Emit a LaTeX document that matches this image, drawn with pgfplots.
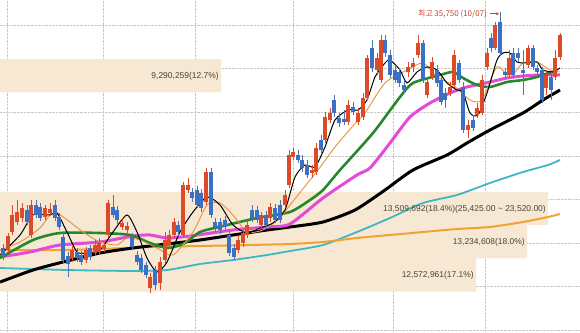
\documentclass[border=0pt]{standalone}
\usepackage{fontspec}
\setmainfont{Liberation Sans}
\newfontfamily\kr{Noto Sans CJK KR}
\usepackage{pgfplots}
\usepackage{pgfplotstable}
\usetikzlibrary{arrows.meta}
\pgfplotsset{compat=1.18}
\definecolor{band}{HTML}{F6E8D3}
\definecolor{cred}{HTML}{DC4A28}
\definecolor{cblue}{HTML}{3A70C6}
\definecolor{cgreen}{HTML}{23892A}
\definecolor{cmag}{HTML}{E24BD6}
\definecolor{ccyan}{HTML}{3FB6C6}
\definecolor{cgold}{HTML}{F0A232}
\definecolor{corange}{HTML}{E8913A}
\definecolor{ltext}{HTML}{4E4234}
\definecolor{ttext}{HTML}{C8402A}

% up candles: x, body low, body high, wick low, wick high
\pgfplotstableread{
x bl bh wl wh
8 22100 22900 21950 23050
12 23150 24100 22950 24700
17 23700 24300 23550 24950
22 23950 24500 23700 24800
31 22950 24700 22800 24950
45 24000 24500 23800 24700
50 24200 24450 24050 24800
72 21650 22100 21400 22350
86 21500 22100 21350 22250
95 21950 22400 21750 22650
99 22000 22500 21800 22800
104 22150 22400 22000 22550
108 22950 24800 22800 24950
122 23400 23650 23250 23950
127 23250 23500 23050 23700
150 19900 20550 19650 20800
160 20200 21400 19800 21700
165 21500 22650 21350 23150
169 22400 22950 22200 23250
174 22950 23700 22800 23950
183 22950 25850 22850 26000
188 25550 25850 25350 26250
206 24850 26550 24700 26800
238 22100 22650 21950 22950
243 22500 23050 22250 23350
247 22950 23550 22800 23800
261 23550 24100 23350 24300
270 23950 24550 23700 24800
285 24700 25250 24500 25550
289 25850 27550 25650 27850
293 27450 27700 27250 27950
312 26500 26700 26250 26950
316 26550 27950 26400 28250
325 28400 29750 28250 30000
330 29550 29950 29400 30250
348 29450 30400 29250 30700
358 29450 29950 29250 30250
363 29750 30800 29550 31100
367 30800 33100 30700 33300
377 32400 33100 32150 33400
381 31850 34150 31700 34450
408 32300 32600 32000 32900
413 32600 32800 32300 33100
418 33300 33950 33100 34450
427 31000 31750 30800 31950
432 32000 32900 31850 33150
450 31100 31450 30950 31750
454 31550 33300 31400 33550
468 29000 29250 28500 29550
477 29850 30250 29650 30550
482 29950 31850 29850 32150
487 32600 33400 32400 33700
495 33700 35000 33550 35150
509 32150 33100 31950 33550
528 32700 33700 32550 33850
546 31400 32150 31000 32400
555 32000 33100 31850 33550
560 33150 34450 33000 34550
}\uptab

% down candles
\pgfplotstableread{
x bl bh wl wh
3 21750 22200 21500 22450
27 23700 24400 23550 24700
36 24100 24700 23950 24950
40 23950 24550 23750 24800
55 23950 24700 23750 24950
59 23400 24000 23250 24200
63 21500 22850 21350 23050
68 21300 21750 20550 22000
77 21650 22000 21400 22200
81 21400 21800 21250 22050
90 21700 22200 21500 22400
113 24100 24550 23950 25250
117 23800 24400 23600 24600
132 22250 22850 22100 23050
137 21400 21800 21250 22050
141 20950 21650 20800 21850
146 20650 21250 20500 21400
155 20100 20950 19800 21200
178 23150 23550 22900 23750
192 25100 25450 24850 25650
197 24700 25550 24500 25750
201 24500 25350 24300 25600
211 24100 26550 23950 26800
215 23400 23700 23150 23950
220 23250 23700 23000 23950
225 23400 23800 23200 24050
229 21950 22950 21750 23200
234 21700 22200 21500 22450
252 23950 24400 23700 24700
257 23800 24400 23650 24600
266 23550 24100 23300 24350
275 23800 24500 23650 24750
280 23800 24700 23650 24950
298 27250 27550 27100 27850
302 26800 27250 26550 27550
307 26400 26950 26250 27250
321 27850 28400 27650 28700
334 29950 30700 29750 31000
339 29400 29650 29150 29950
344 29450 29600 29250 30150
353 30000 30300 29850 30600
372 32550 33700 32300 34150
385 33400 34150 33150 34450
390 32150 33300 31950 33550
395 31850 32400 31700 32700
399 31700 32300 31450 32550
404 31250 31550 31100 31850
423 31850 33950 31700 34150
437 31700 32400 31450 32700
441 30600 31850 30400 32000
445 30700 31100 30250 31400
459 31850 32800 31700 33000
463 29000 31450 28800 31750
473 29100 29550 28900 29850
491 33700 34250 33450 34550
500 33400 35150 33200 35750
505 32150 32300 31950 32550
513 32150 33400 31950 33700
518 33100 33400 32900 33700
523 32250 32400 31000 33550
533 32600 33700 32400 33850
537 32300 32550 32100 32700
542 30700 32400 30550 32600
551 31250 32000 30700 32300
}\downtab

\begin{document}
\begin{tikzpicture}
\begin{axis}[
  width=580bp, height=333bp, scale only axis,
  xmin=0, xmax=580, ymin=17340, ymax=36434,
  axis line style={draw=none},
  major tick length=0pt,
  xtick={7,103,195,293,393,485},
  ytick={17500,20000,...,35000},
  xticklabel=\empty, yticklabel=\empty,
  grid=major,
  grid style={densely dotted, color=black!22, line width=0.6bp},
  clip=true,
]
% volume profile bands
\addplot[xbar, bar width=1905, fill=band, draw=none, forget plot]
  coordinates {(221,32092.5) (548,24472.5) (527,22567.5) (476,20662.5)};

% long moving averages
\addplot[ccyan, line width=1.8bp, smooth, tension=0.4] coordinates {
(0,21067) (67,20952) (133,20895) (167,20952) (200,21296) (233,21526) (267,21812)
(290,22041) (323,22386) (357,23131) (390,23934) (423,24794) (457,25253) (490,25941)
(523,26572) (548,26973) (560,27260)};
\addplot[cgold, line width=2bp, smooth, tension=0.4] coordinates {
(0,22099) (60,22099) (100,22156) (150,22271) (200,22328) (250,22386) (290,22443)
(323,22558) (357,22787) (390,22959) (423,23131) (457,23303) (490,23418) (523,23705)
(548,23991) (560,24163)};
\addplot[black, line width=3bp, smooth, tension=0.4] coordinates {
(0,20260) (33,20952) (63,21411) (100,21927) (133,22214) (167,22443) (200,22672)
(233,22959) (267,23246) (290,23418) (323,23705) (355,24393) (385,25539) (413,26686)
(447,27546) (467,28234) (490,28980) (523,29955) (543,30700) (560,31273)};
\addplot[cmag, line width=3bp, smooth, tension=0.4] coordinates {
(0,21697) (30,21984) (60,22386) (100,22558) (133,22902) (150,22959) (167,22787)
(190,22902) (233,23246) (267,23418) (290,23590) (323,25081) (357,26400) (370,26801)
(390,28234) (410,29725) (430,30528) (450,31101) (467,31446) (490,31732) (507,31961)
(523,32076) (540,32134) (560,32134)};
\addplot[cgreen, line width=2.6bp, smooth, tension=0.4] coordinates {
(0,21640) (33,22672) (60,23074) (100,23074) (130,22959) (150,22500) (168,22214)
(185,22500) (200,23131) (223,23475) (257,23934) (290,24278) (310,24966) (323,25539)
(340,26686) (373,28808) (400,30872) (413,31675) (440,32134) (453,32306) (463,31961)
(477,31560) (490,31446) (507,31732) (523,31847) (537,32019) (557,32420)};
\addplot[corange, line width=0.9bp, smooth, tension=0.4] coordinates {
(0,22099) (20,22558) (40,23360) (50,24106) (57,24221) (70,23705) (83,23131)
(100,22558) (117,22386) (127,22787) (140,22672) (157,22214) (173,21812) (193,23131)
(207,24679) (220,24794) (233,24106) (247,23131) (263,23246) (280,23934) (290,24679)
(318,26686) (335,28005) (352,29152) (365,29955) (385,31675) (407,32420) (423,32822)
(437,32019) (453,31560) (470,30700) (482,30700) (497,32592) (510,32019) (523,32822)
(537,32879) (550,32420) (560,32306)};
\addplot[black, line width=1bp, smooth, tension=0.4] coordinates {
(0,21812) (20,22959) (33,24106) (50,24106) (57,24221) (67,23131) (77,21984)
(87,21927) (100,22099) (113,23131) (127,24106) (137,23131) (147,21640) (157,20838)
(167,21411) (180,23131) (193,24278) (207,25138) (220,24679) (233,23533) (247,23074)
(260,23360) (273,23647) (285,24393) (295,26285) (305,26973) (315,26858) (325,28005)
(335,29553) (348,30127) (358,30127) (367,30700) (375,32019) (385,32822) (390,32994)
(400,32420) (407,31675) (417,32306) (427,32592) (437,32420) (447,31675) (457,31273)
(463,31159) (470,29955) (478,29840) (487,31101) (497,32994) (503,33395) (510,33395)
(517,32879) (527,32822) (537,32879) (543,32420) (553,32306) (560,32535)};

% candles: wicks then bodies
\addplot[draw=none, mark=none, forget plot,
  error bars/.cd, y dir=plus, y explicit, error mark=none,
  error bar style={draw=cred, line width=0.8bp}]
  table[x=x, y=wl, y error expr=\thisrow{wh}-\thisrow{wl}] {\uptab};
\addplot[draw=none, mark=none, forget plot,
  error bars/.cd, y dir=plus, y explicit, error mark=none,
  error bar style={draw=cblue!70!gray, line width=0.8bp}]
  table[x=x, y=wl, y error expr=\thisrow{wh}-\thisrow{wl}] {\downtab};
\addplot[draw=none, mark=none, forget plot,
  error bars/.cd, y dir=plus, y explicit, error mark=none,
  error bar style={draw=cred, line width=3.5bp}]
  table[x=x, y=bl, y error expr=\thisrow{bh}-\thisrow{bl}] {\uptab};
\addplot[draw=none, mark=none, forget plot,
  error bars/.cd, y dir=plus, y explicit, error mark=none,
  error bar style={draw=cblue, line width=3.5bp}]
  table[x=x, y=bl, y error expr=\thisrow{bh}-\thisrow{bl}] {\downtab};

% band labels
\begin{scope}[every node/.style={font=\fontsize{8.5}{9}\selectfont, text=ltext, anchor=east, inner sep=0pt}]
\node at (axis cs:219,32060) {9,290,259(12.7\%)};
\node at (axis cs:546,24450) {13,509,692(18.4\%)(25,425.00 \textasciitilde{} 23,520.00)};
\node at (axis cs:525,22560) {13,234,608(18.0\%)};
\node at (axis cs:474,20650) {12,572,961(17.1\%)};
\end{scope}
\node[anchor=east, inner sep=0pt, text=ttext, font=\kr\fontsize{8}{9}\selectfont]
  at (axis cs:487,35640) {최고 35,750 (10/07)};
\draw[ttext, line width=0.7bp, -{Stealth[length=3bp,width=3bp]}] (axis cs:490,35640) -- (axis cs:499,35640);
\end{axis}
\pgfresetboundingbox
\path[use as bounding box] (0,0) rectangle (580bp,333bp);
\end{tikzpicture}
\end{document}
